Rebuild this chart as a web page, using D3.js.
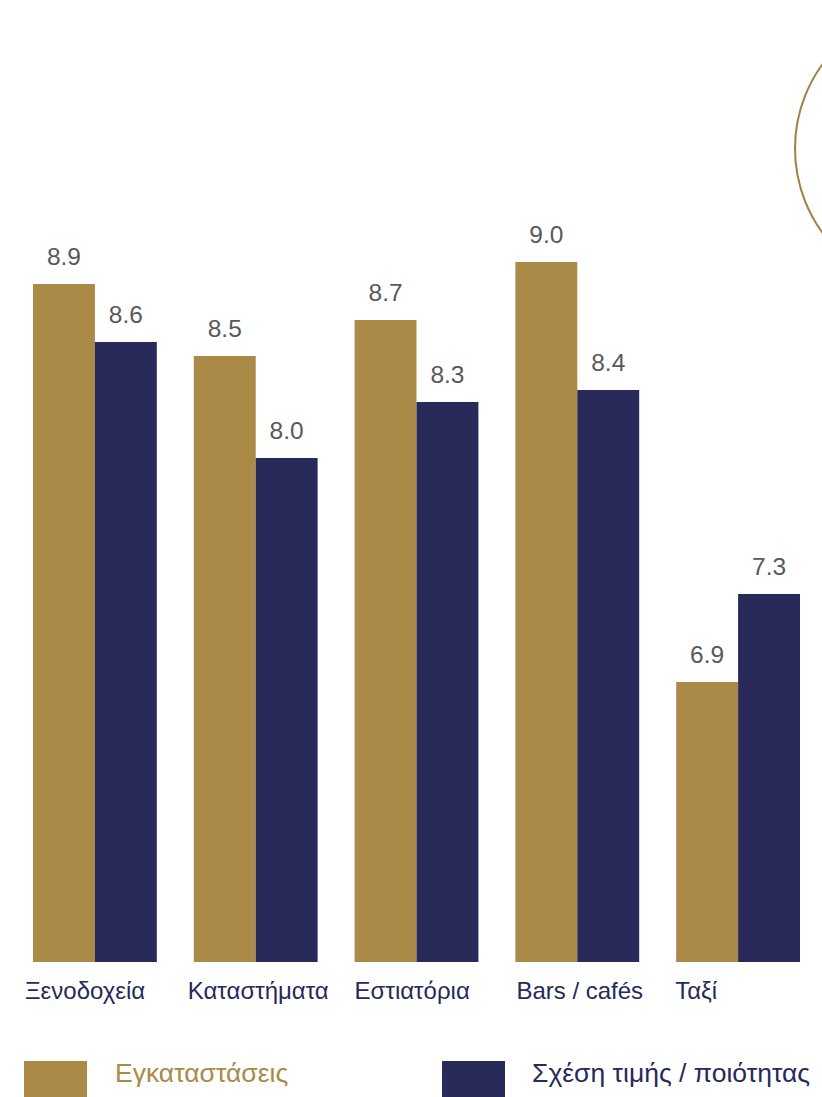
<!DOCTYPE html>
<html>
<head>
<meta charset="utf-8">
<script src="https://cdn.jsdelivr.net/npm/d3@7"></script>
<style>
  html, body { margin: 0; padding: 0; background: #fff; }
  svg { display: block; font-family: "Liberation Sans", Arial, sans-serif; }
</style>
</head>
<body>
<svg id="chart" width="822" height="1097"></svg>
<script>
// ---- data ----
const categories = ["Ξενοδοχεία", "Καταστήματα", "Εστιατόρια", "Bars / cafés", "Ταξί"];
const seriesNames = ["Εγκαταστάσεις", "Σχέση τιμής / ποιότητας"];
const facilities = [8.89, 8.53, 8.71, 9.0, 6.9];
const valueForMoney = [8.6, 8.02, 8.3, 8.36, 7.34];

// ---- layout (not data) ----
const colors = ["#ab8947", "#282a59"];
const labelDx = [-8, -6, 0, 1, -1];

const svg = d3.select("#chart");

// decorative circle at top right
svg.append("circle")
  .attr("cx", 938).attr("cy", 148.5).attr("r", 143)
  .attr("fill", "none").attr("stroke", "#a2803f").attr("stroke-width", 2);

const x0 = d3.scaleBand().domain(categories).range([33, 800]).paddingInner(0.23).paddingOuter(0);
const x1 = d3.scaleBand().domain(seriesNames).range([0, x0.bandwidth()]).padding(0);
const y = d3.scaleLinear().domain([5.5, 9.0]).range([962, 262]);

const rows = categories.map((c, i) => ({ cat: c, vals: [facilities[i], valueForMoney[i]] }));

const g = svg.append("g");
const groups = g.selectAll("g.grp").data(rows).join("g")
  .attr("class", "grp")
  .attr("transform", d => `translate(${x0(d.cat)},0)`);

groups.selectAll("rect").data(d => d.vals.map((v, j) => ({ s: seriesNames[j], v, j })))
  .join("rect")
  .attr("x", d => x1(d.s))
  .attr("y", d => y(d.v))
  .attr("width", x1.bandwidth())
  .attr("height", d => y(y.domain()[0]) - y(d.v))
  .attr("fill", d => colors[d.j]);

groups.selectAll("text.val").data(d => d.vals.map((v, j) => ({ s: seriesNames[j], v, j })))
  .join("text")
  .attr("class", "val")
  .attr("x", d => x1(d.s) + x1.bandwidth() / 2)
  .attr("y", d => y(d.v) - 19)
  .attr("text-anchor", "middle")
  .attr("fill", "#595959")
  .attr("font-size", 24.5)
  .text(d => d3.format(".1f")(d.v));

// category labels
g.selectAll("text.cat").data(categories).join("text")
  .attr("class", "cat")
  .attr("x", (d, i) => x0(d) + labelDx[i])
  .attr("y", 999)
  .attr("fill", "#262a5a")
  .attr("font-size", 24)
  .text(d => d);

// legend
const legendX = [24, 442];
const legend = svg.append("g");
const li = legend.selectAll("g").data(seriesNames).join("g")
  .attr("transform", (d, i) => `translate(${legendX[i]},1061)`);
li.append("rect").attr("width", 63).attr("height", 36).attr("fill", (d, i) => colors[i]);
li.append("text")
  .attr("x", (d, i) => i === 0 ? 91 : 90)
  .attr("y", 21)
  .attr("font-size", 26.5)
  .attr("fill", (d, i) => i === 0 ? "#ab8947" : "#262a5a")
  .text(d => d);
</script>
</body>
</html>
